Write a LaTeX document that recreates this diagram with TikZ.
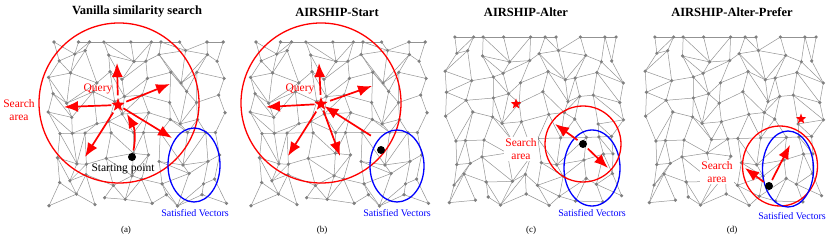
\documentclass[tikz,border=0pt]{standalone}
\usepackage{fontspec}
\setmainfont{Liberation Serif}
\usetikzlibrary{arrows.meta,shapes.geometric}
\tikzset{
  edge/.style={draw=gray!85, line width=0.5pt},
  vert/.style={fill=gray},
  qstar/.style={star, star points=5, star point ratio=2.4, fill=red, inner sep=0pt, minimum size=14pt},
  qsmall/.style={qstar, minimum size=11pt},
  spoint/.style={circle, fill=black, inner sep=0pt, minimum size=8pt},
  rarr/.style={red, line width=1.7pt, shorten <=2.5pt, -{Latex[length=14pt,width=11pt]}},
  searchc/.style={red, line width=1.3pt},
  satc/.style={blue, line width=1.3pt},
  ttl/.style={font=\bfseries\fontsize{12.5}{14}\selectfont},
  rlbl/.style={text=red, align=center, font=\fontsize{11.5}{13}\selectfont},
  blbl/.style={text=blue, font=\fontsize{10}{12}\selectfont},
  subcap/.style={font=\fontsize{9}{11}\selectfont}
}
% one mesh: #1 name prefix, #2 x offset, #3 phase
\newcommand\mesh[3]{%
  \foreach \i in {0,...,9}{
    \foreach \j in {0,...,8}{
      \pgfmathsetmacro\mx{#2+54+18.5*\i+6*sin(97*\i+61*\j*\j+#3)}
      \pgfmathsetmacro\my{36+20.5*\j+6*cos(71*\i*\j+43*\j+2*#3)}
      \coordinate (#1-\i-\j) at (\mx,\my);
    }
  }
  \foreach \i in {0,...,9}{
    \foreach \j in {0,...,8}{
      \pgfmathtruncatemacro\ni{\i+1}
      \pgfmathtruncatemacro\nj{\j+1}
      \pgfmathtruncatemacro\dg{mod(7*\i+3*\j+#3,3)}
      \pgfmathtruncatemacro\sk{mod(5*\i+11*\j+#3,7)}
      \ifnum\i<9 \ifnum\sk>0 \draw[edge] (#1-\i-\j) -- (#1-\ni-\j); \fi\fi
      \ifnum\j<8 \draw[edge] (#1-\i-\j) -- (#1-\i-\nj); \fi
      \ifnum\i<9 \ifnum\j<8
        \ifcase\dg \draw[edge] (#1-\i-\j) -- (#1-\ni-\nj);
        \or \draw[edge] (#1-\ni-\j) -- (#1-\i-\nj);
        \fi
      \fi\fi
    }
  }
  \foreach \i in {0,...,9}
    \foreach \j in {0,...,8}
      \fill[vert] (#1-\i-\j) circle (1.8pt);
}

\begin{document}
\begin{tikzpicture}[x=1pt,y=-1pt]
\useasboundingbox (0,0) rectangle (830,240);

% (a) vanilla
\mesh{a}{0}{0}
\node[ttl] (ta) at (137,12) {Vanilla similarity search};
\draw[searchc] (119,103) circle (80pt);
\draw[satc] (194,165) ellipse [x radius=26pt, y radius=37pt];
\node[qstar] (qa) at (118,105) {};
\node[spoint] (sa) at (132,157) {};
\coordinate (a1) at (117,63);
\coordinate (a2) at (170,84);
\coordinate (a3) at (64,107);
\coordinate (a4) at (85,157);
\coordinate (a5) at (172,138);
\coordinate (a6) at (127,114);
\draw[rarr] (qa) -- (a1);
\draw[rarr] (qa) -- (a2);
\draw[rarr] (qa) -- (a3);
\draw[rarr] (qa) -- (a4);
\draw[rarr] (qa) -- (a5);
\draw[rarr] (sa) to[bend right=20] (a6);
\node[rlbl] (qla) at (98,89) {Query};
\node[rlbl] (sla) at (19,110) {Search\\area};
\node[font=\fontsize{11.5}{13}\selectfont] (spa) at (123,169) {Starting point};
\node[blbl] (va) at (195,213) {Satisfied Vectors};
\node[subcap] (ca) at (126,230) {(a)};

% (b) start
\mesh{b}{202}{0}
\node[ttl] (tb) at (337,12) {AIRSHIP-Start};
\draw[searchc] (321,103) circle (80pt);
\draw[satc] (397,166) ellipse [x radius=27pt, y radius=36pt];
\node[qstar] (qb) at (321,104) {};
\node[spoint] (sb) at (381,150) {};
\coordinate (b1) at (319,63);
\coordinate (b2) at (372,86);
\coordinate (b3) at (266,107);
\coordinate (b4) at (288,156);
\coordinate (b5) at (340,156);
\coordinate (b0) at (373,137);
\draw[rarr] (qb) -- (b1);
\draw[rarr] (qb) -- (b2);
\draw[rarr] (qb) -- (b3);
\draw[rarr] (qb) -- (b4);
\draw[rarr] (qb) -- (b5);
\draw[rarr] (b0) -- (qb);
\node[rlbl] (qlb) at (300,89) {Query};
\node[blbl] (vb) at (397,213) {Satisfied Vectors};
\node[subcap] (cb) at (322,230) {(b)};

% (c) alter
\mesh{c}{397}{40}
\node[ttl] (tc) at (526,12) {AIRSHIP-Alter};
\node[rlbl, fill=white, inner sep=1pt] (slc) at (521,149) {Search\\area};
\draw[satc] (592,168) ellipse [x radius=28pt, y radius=38pt];
\draw[searchc] (583,144) circle (38pt);
\node[qsmall] (qc) at (516,104) {};
\node[spoint] (sc) at (583,144) {};
\coordinate (c1) at (555,124);
\coordinate (c2) at (608,168);
\draw[rarr] (sc) -- (c1);
\draw[rarr] (sc) -- (c2);
\node[blbl] (vc) at (592,213) {Satisfied Vectors};
\node[subcap] (cc) at (531,230) {(c)};

% (d) alter-prefer
\mesh{d}{597}{40}
\node[ttl] (td) at (732,12) {AIRSHIP-Alter-Prefer};
\node[rlbl, fill=white, inner sep=1pt] (sld) at (717,172) {Search\\area};
\draw[searchc] (780,166) ellipse [x radius=37.5pt, y radius=40pt];
\draw[satc] (788,169) ellipse [x radius=25.5pt, y radius=38pt];
\node[qsmall] (qd) at (801,119) {};
\node[spoint] (sd) at (769,186) {};
\coordinate (d1) at (745,168);
\coordinate (d2) at (790,145);
\draw[rarr] (sd) -- (d1);
\draw[rarr] (sd) -- (d2);
\node[blbl] (vd) at (792,216) {Satisfied Vectors};
\node[subcap] (cd) at (732,230) {(d)};
\end{tikzpicture}
\end{document}
